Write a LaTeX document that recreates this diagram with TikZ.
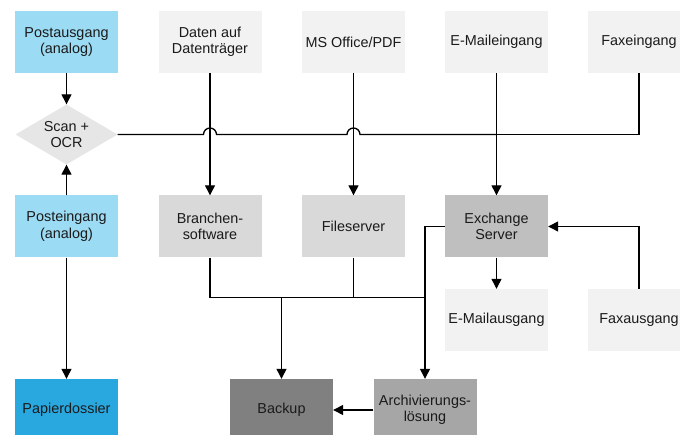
\documentclass[tikz,border=0pt]{standalone}
\usepackage{fontspec}
\setmainfont{Liberation Sans}
\usetikzlibrary{shapes.geometric,arrows.meta,calc}
\definecolor{lblue}{HTML}{9BDBF4}
\definecolor{dblue}{HTML}{29A8E0}
\definecolor{g1}{HTML}{F2F2F2}
\definecolor{g2}{HTML}{D9D9D9}
\definecolor{g3}{HTML}{BFBFBF}
\definecolor{g4}{HTML}{A6A6A6}
\definecolor{g5}{HTML}{808080}
\definecolor{gd}{HTML}{E6E6E6}
\definecolor{txt}{HTML}{1A1A1A}
\begin{document}
\begin{tikzpicture}[x=1pt,y=1pt,
  box/.style={rectangle, minimum width=103pt, minimum height=62pt, inner sep=0pt, align=center,
    font=\fontsize{14.4}{16.5}\selectfont, text=txt},
  dia/.style={diamond, aspect=1.7, minimum width=102pt, minimum height=60pt, inner sep=0pt, align=center,
    font=\fontsize{14.4}{16.5}\selectfont, text=txt, fill=gd},
  arr/.style={line width=1.3pt, -{Triangle[length=10pt,width=10pt]}},
  ln/.style={line width=1.3pt}]
\useasboundingbox (0,0) rectangle (680,-435);
\clip (0,0) rectangle (680,-435);
\fill[white] (0,0) rectangle (680,-435);
% row 1
\node[box, fill=lblue] (pa) at (66.5,-42) {Postausgang\\(analog)};
\node[box, fill=g1] (daten) at (210,-42) {Daten auf\\Datenträger};
\node[box, fill=g1] (ms) at (353.5,-42) {MS Office/PDF};
\node[box, fill=g1] (email) at (496.5,-42) {E-Maileingang};
\node[box, fill=g1] (fax) at (639,-42) {Faxeingang};
% diamond
\node[dia] (scan) at (66.5,-134.5) {Scan +\\OCR};
% row 3
\node[box, fill=lblue] (pe) at (66.5,-226.5) {Posteingang\\(analog)};
\node[box, fill=g2] (bran) at (210,-226.5) {Branchen-\\software};
\node[box, fill=g2] (file) at (353.5,-226.5) {Fileserver};
\node[box, fill=g3] (exch) at (496.5,-226.5) {Exchange\\Server};
% row 4
\node[box, fill=g1] (emo) at (496.5,-320) {E-Mailausgang};
\node[box, fill=g1] (fao) at (639,-320) {Faxausgang};
% row 5
\node[box, fill=dblue] (pap) at (66.5,-410) {Papierdossier};
\node[box, fill=g5] (backup) at (281.5,-410) {Backup};
\node[box, fill=g4] (arch) at (425,-410) {Archivierungs-\\lösung};
\coordinate (bus) at (0,-297.5);
% connectors
\draw[arr] (pa.south) -- (scan.north);
\draw[arr] (pe.north) -- (scan.south);
\draw[arr] (pe.south) -- (pap.north);
\draw[arr] (daten.south) -- (bran.north);
\draw[arr] (ms.south) -- (file.north);
\draw[arr] (email.south) -- (exch.north);
\draw[ln] (scan.east) -- ($(scan.east -| daten.south)+(-6.5,0)$) arc[start angle=180,end angle=0,radius=6.5]
  -- ($(scan.east -| ms.south)+(-6.5,0)$) arc[start angle=180,end angle=0,radius=6.5]
  -- (scan.east -| email.south);
\draw[ln] (fax.south) |- (scan.east -| email.south);
\draw[arr] (exch.south) -- (emo.north);
\draw[arr] (fao.north) |- (exch.east);
\draw[ln] (bran.south) |- (arch.north |- bus);
\draw[ln] (file.south) -- (file.south |- bus);
\draw[arr] (backup.north |- bus) -- (backup.north);
\draw[arr] (exch.west) -| (arch.north);
\draw[arr] (arch.west) -- (backup.east);
\end{tikzpicture}
\end{document}
